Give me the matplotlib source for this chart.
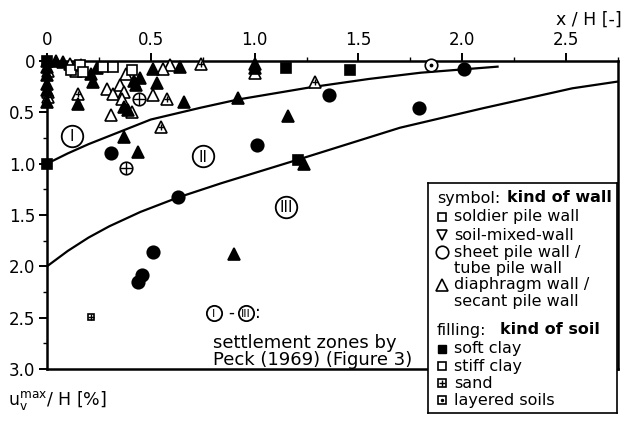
import matplotlib
matplotlib.use("Agg")
import matplotlib.pyplot as plt
from matplotlib.ticker import FixedLocator, FixedFormatter, MultipleLocator

plt.rcParams["font.family"] = ["DejaVu Sans"]

# ---- axis ticks -------------------------------------------------------------
x_ticks = [0.0, 0.5, 1.0, 1.5, 2.0, 2.5]
x_tick_labels = ["0", "0.5", "1.0", "1.5", "2.0", "2.5"]
y_ticks = [0.0, 0.5, 1.0, 1.5, 2.0, 2.5, 3.0]
y_tick_labels = ["0", "0.5", "1.0", "1.5", "2.0", "2.5", "3.0"]

# ---- Peck (1969) zone boundaries -------------------------------------------
bound_12_x = [0.0, 0.1, 0.2, 0.35, 0.5, 0.74, 0.92, 1.27, 1.55, 1.80, 2.17]
bound_12_y = [1.0, 0.90, 0.81, 0.69, 0.57, 0.455, 0.375, 0.256, 0.175,
              0.114, 0.055]
bound_23_x = [0.0, 0.1, 0.2, 0.30, 0.45, 0.63, 0.84, 1.21, 1.70, 2.10,
              2.53, 2.75]
bound_23_y = [2.0, 1.85, 1.72, 1.61, 1.47, 1.33, 1.19, 0.96, 0.65, 0.46,
              0.266, 0.20]

# ---- measured settlements (x/H, u_v,max/H) ---------------------------------
# diaphragm / secant pile walls
diaphragm_soft_x = [0.0, 0.0, 0.0, 0.0, 0.0, 0.0, 0.045, 0.077, 0.166, 0.24,
                    0.21, 0.22, 0.15, 0.42, 0.43, 0.45, 0.51, 0.53, 0.64, 0.66,
                    0.37, 0.39, 0.37, 0.44, 1.0, 1.0, 0.92, 1.16, 1.24, 0.90]
diaphragm_soft_y = [0.0, 0.06, 0.14, 0.22, 0.28, 0.40, 0.0, 0.01, 0.04, 0.07,
                    0.13, 0.20, 0.42, 0.19, 0.23, 0.17, 0.08, 0.21, 0.06, 0.40,
                    0.45, 0.48, 0.74, 0.89, 0.03, 0.07, 0.36, 0.54, 1.0, 1.88]
diaphragm_stiff_x = [0.005, 0.11, 0.134, 0.14, 0.38, 0.29, 0.32, 0.35, 0.37,
                     0.36, 0.31, 0.41, 0.51, 0.59, 0.56, 1.0, 0.005]
diaphragm_stiff_y = [0.10, 0.03, 0.06, 0.10, 0.13, 0.27, 0.32, 0.23, 0.30,
                     0.37, 0.53, 0.50, 0.33, 0.04, 0.08, 0.12, 0.30]
diaphragm_sand_x = [0.15, 0.58, 0.74, 0.55, 0.005, 1.29]
diaphragm_sand_y = [0.32, 0.37, 0.03, 0.64, 0.35, 0.20]

# soldier pile walls
soldier_soft_x = [0.0, 0.0, 1.15, 1.46, 1.21]
soldier_soft_y = [0.0, 1.0, 0.07, 0.09, 0.96]
soldier_stiff_x = [0.117, 0.16, 0.174, 0.27, 0.32, 0.41]
soldier_stiff_y = [0.09, 0.04, 0.107, 0.06, 0.06, 0.09]
soldier_sand_x = [0.21]
soldier_sand_y = [2.49]

# sheet pile / tube pile walls
sheet_soft_x = [0.31, 0.63, 0.51, 0.457, 0.436, 1.01, 1.36, 1.79, 2.01]
sheet_soft_y = [0.90, 1.32, 1.86, 2.08, 2.15, 0.82, 0.33, 0.46, 0.08]
sheet_sand_x = [0.445, 0.38]
sheet_sand_y = [0.37, 1.04]
sheet_layered_x = [1.85]
sheet_layered_y = [0.04]

# ---- legend text ------------------------------------------------------------
wall_labels = [["soldier pile wall"], ["soil-mixed-wall"],
               ["sheet pile wall /", "tube pile wall"],
               ["diaphragm wall /", "secant pile wall"]]
soil_labels = ["soft clay", "stiff clay", "sand", "layered soils"]
zone_numerals = ["I", "II", "III"]

W, H = 624, 421
fig = plt.figure(figsize=(W / 100, H / 100), dpi=100)
fig.patch.set_facecolor("white")

L, R, T, B = 47, 618, 61, 369
ax = fig.add_axes([L / W, 1 - B / H, (R - L) / W, (B - T) / H])
ax.set_xlim(0, 2.75)
ax.set_ylim(3.0, 0.0)

for s in ax.spines.values():
    s.set_linewidth(1.8)

ax.xaxis.tick_top()
ax.xaxis.set_major_locator(FixedLocator(x_ticks))
ax.xaxis.set_major_formatter(FixedFormatter(x_tick_labels))
ax.xaxis.set_minor_locator(MultipleLocator(0.25))
ax.yaxis.set_major_locator(FixedLocator(y_ticks))
ax.yaxis.set_major_formatter(FixedFormatter(y_tick_labels))
ax.yaxis.set_minor_locator(MultipleLocator(0.25))
ax.tick_params(axis="both", which="major", direction="out", length=6,
               width=1.4, labelsize=12, pad=2.5)
ax.tick_params(axis="both", which="minor", direction="out", length=3,
               width=1.0)
ax.tick_params(axis="x", which="both", top=True, bottom=False)
ax.tick_params(axis="y", which="both", left=True, right=False)

# zone boundaries
ax.plot(bound_12_x, bound_12_y, color="black", lw=1.6, zorder=2)
ax.plot(bound_23_x, bound_23_y, color="black", lw=1.6, zorder=2)


def draw(xs, ys, marker, filled, ms, overlay=None, overlay_ms=None):
    ax.plot(xs, ys, ls="none", marker=marker, ms=ms,
            mfc="black" if filled else "white", mec="black", mew=1.2,
            clip_on=False, zorder=4)
    if overlay:
        ax.plot(xs, ys, ls="none", marker=overlay, ms=overlay_ms,
                color="black", mew=1.0, clip_on=False, zorder=5)


draw(diaphragm_stiff_x, diaphragm_stiff_y, "^", False, 8)
draw(diaphragm_sand_x, diaphragm_sand_y, "^", False, 8, "+", 4.5)
draw(diaphragm_soft_x, diaphragm_soft_y, "^", True, 8)
draw(soldier_stiff_x, soldier_stiff_y, "s", False, 6.5)
draw(soldier_soft_x, soldier_soft_y, "s", True, 6.5)
draw(soldier_sand_x, soldier_sand_y, "s", False, 5, "+", 4.5)
draw(sheet_soft_x, sheet_soft_y, "o", True, 9)
draw(sheet_sand_x, sheet_sand_y, "o", False, 9, "+", 8)
draw(sheet_layered_x, sheet_layered_y, "o", False, 9, ".", 3.5)


def circled(axis, x, y, numeral, d_pt, fs):
    axis.plot([x], [y], ls="none", marker="o", ms=d_pt, mfc="white",
              mec="black", mew=1.3, zorder=6, clip_on=False)
    axis.text(x, y + 0.01, numeral, ha="center", va="center", size=fs,
              zorder=7)


# settlement zone markers
circled(ax, 0.12, 0.73, zone_numerals[0], 15.5, 11)
circled(ax, 0.75, 0.93, zone_numerals[1], 15.5, 11)
circled(ax, 1.15, 1.42, zone_numerals[2], 15.5, 11)

# zone explanation
circled(ax, 0.804, 2.45, zone_numerals[0], 11, 8)
ax.text(0.885, 2.45, "-", ha="center", va="center", size=12)
circled(ax, 0.958, 2.45, zone_numerals[2], 11, 8)
ax.text(1.0, 2.45, ":", ha="left", va="center", size=12)
ax.text(0.80, 2.745, "settlement zones by", ha="left", va="center", size=13)
ax.text(0.80, 2.91, "Peck (1969) (Figure 3)", ha="left", va="center",
        size=13)

# axis titles
fig.text(622 / W, 1 - 20 / H, "x / H [-]", ha="right", va="center", size=12.5)
fig.text(8 / W, 1 - 400 / H, r"u$_\mathregular{v}^\mathregular{max}$/ H [%]",
         ha="left", va="center", size=12.5)

# ---- legend box --------------------------------------------------------------
bx0, bx1, by0, by1 = 428, 617, 183, 413
lax = fig.add_axes([bx0 / W, 1 - by1 / H, (bx1 - bx0) / W, (by1 - by0) / H])
lax.set_xlim(bx0, bx1)
lax.set_ylim(by1, by0)
lax.set_xticks([])
lax.set_yticks([])
lax.set_facecolor("white")
for s in lax.spines.values():
    s.set_linewidth(1.2)

mx, tx = 442, 454
item_fs = 11.5
line_step = 16.5

lax.text(437, 198, "symbol:", ha="left", va="center", size=11.5)
lax.text(507, 198, "kind of wall", ha="left", va="center", size=11.5,
         weight="bold")
wall_rows = [217, 235, 252, 285]
wall_markers = ["s", "v", "o", "^"]
wall_ms = [6, 7, 9, 8]
for lines, yy, mk, ms in zip(wall_labels, wall_rows, wall_markers, wall_ms):
    lax.plot([mx], [yy], ls="none", marker=mk, ms=ms, mfc="white",
             mec="black", mew=1.2)
    for i, line in enumerate(lines):
        lax.text(tx, yy + i * line_step, line, ha="left", va="center",
                 size=item_fs)

lax.text(437, 330, "filling:", ha="left", va="center", size=11.5)
lax.text(500, 330, "kind of soil", ha="left", va="center", size=11.5,
         weight="bold")
soil_rows = [349, 366, 383, 400]
for lbl, yy in zip(soil_labels, soil_rows):
    lax.text(tx, yy, lbl, ha="left", va="center", size=item_fs)
lax.plot([mx], [soil_rows[0]], ls="none", marker="s", ms=6, mfc="black",
         mec="black")
lax.plot([mx], [soil_rows[1]], ls="none", marker="s", ms=6, mfc="white",
         mec="black", mew=1.2)
lax.plot([mx], [soil_rows[2]], ls="none", marker="s", ms=6, mfc="white",
         mec="black", mew=1.2)
lax.plot([mx], [soil_rows[2]], ls="none", marker="+", ms=5, color="black",
         mew=1.0)
lax.plot([mx], [soil_rows[3]], ls="none", marker="s", ms=6, mfc="white",
         mec="black", mew=1.2)
lax.plot([mx], [soil_rows[3]], ls="none", marker=".", ms=3, color="black")

fig.savefig("out.png", dpi=100)
